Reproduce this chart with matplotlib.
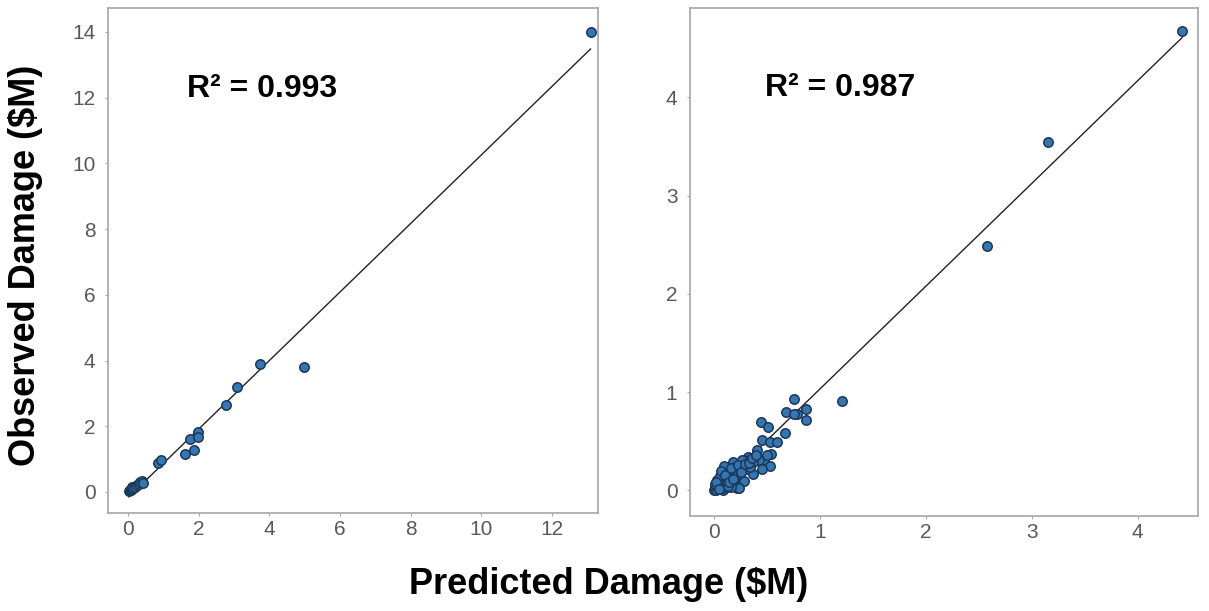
import numpy as np
import matplotlib
matplotlib.use('Agg')
import matplotlib.pyplot as plt

plt.rcParams['font.family'] = ['Liberation Sans', 'DejaVu Sans']

# left panel: observed vs predicted damage ($M)
pred_a = [0.02, 0.05, 0.08, 0.10, 0.12, 0.15, 0.20, 0.25, 0.30, 0.35, 0.39, 0.41,
          0.86, 0.93, 1.61, 1.74, 1.87, 1.99, 1.99, 2.78, 3.08, 3.74, 4.97, 13.09]
obs_a = [0.02, 0.06, 0.05, 0.10, 0.16, 0.12, 0.15, 0.22, 0.25, 0.30, 0.33, 0.26,
         0.89, 0.97, 1.16, 1.62, 1.28, 1.83, 1.68, 2.65, 3.19, 3.90, 3.81, 14.0]
fit_a = (1.043, -0.17)   # slope, intercept
r2_a = 'R² = 0.993'

# right panel
pred_b = [0.75, 0.68, 0.78, 0.87, 0.87, 0.44, 0.51, 0.67, 0.45, 0.53, 0.59, 0.40,
          0.54, 0.47, 0.53, 0.42, 0.32, 0.37, 0.28, 0.25, 0.18, 0.15, 0.31, 0.37,
          0.21, 0.10, 0.06, 0.03, 0.01, 0.12, 0.21, 0.18, 0.07, 0.28, 0.45, 0.75,
          1.21, 0.50, 0.23, 0.26, 0.34, 0.09,
          0.00, 0.01, 0.02, 0.02, 0.03, 0.04, 0.04, 0.05, 0.05, 0.06, 0.07, 0.08,
          0.08, 0.09, 0.10, 0.11, 0.12, 0.13, 0.14, 0.15, 0.16, 0.17, 0.19, 0.20,
          0.22, 0.24, 0.01, 0.03, 0.05, 0.07, 0.09, 0.11, 0.13, 0.02, 0.04, 0.06,
          0.10, 0.14, 0.16, 0.18, 0.22, 0.25, 0.29, 0.33, 0.36, 0.39,
          2.58, 3.15, 4.42]
obs_b = [0.93, 0.80, 0.78, 0.83, 0.72, 0.70, 0.65, 0.58, 0.51, 0.49, 0.49, 0.41,
         0.37, 0.31, 0.25, 0.31, 0.34, 0.29, 0.31, 0.25, 0.29, 0.22, 0.22, 0.17,
         0.14, 0.19, 0.14, 0.07, 0.02, 0.03, 0.02, 0.08, 0.08, 0.10, 0.22, 0.78,
         0.91, 0.36, 0.02, 0.31, 0.24, 0.25,
         0.00, 0.02, 0.05, 0.00, 0.03, 0.08, 0.01, 0.05, 0.12, 0.03, 0.10, 0.06,
         0.00, 0.13, 0.04, 0.09, 0.15, 0.07, 0.18, 0.11, 0.04, 0.20, 0.13, 0.24,
         0.17, 0.21, 0.07, 0.11, 0.15, 0.02, 0.18, 0.14, 0.05, 0.09, 0.01, 0.20,
         0.16, 0.09, 0.23, 0.12, 0.26, 0.19, 0.27, 0.28, 0.33, 0.36,
         2.49, 3.55, 4.68]
fit_b = (1.045, -0.01)
r2_b = 'R² = 0.987'

grey = '#a6a6a6'
tick_col = '#595959'
fill = '#3475b3'
edge = '#1b3856'

fig = plt.figure(figsize=(12.09, 6.11), dpi=100)
ax1 = fig.add_axes([0.0893, 0.1604, 0.4053, 0.8265])
ax2 = fig.add_axes([0.5707, 0.1555, 0.4202, 0.8314])

panels = [
    (ax1, pred_a, obs_a, fit_a, r2_a, (-0.57, 13.3), (-0.64, 14.73), [0, 2, 4, 6, 8, 10, 12], [0, 2, 4, 6, 8, 10, 12, 14], (0.161, 0.84)),
    (ax2, pred_b, obs_b, fit_b, r2_b, (-0.23, 4.57), (-0.26, 4.91), [0, 1, 2, 3, 4], [0, 1, 2, 3, 4], (0.148, 0.843)),
]

for ax, x, y, fit, r2, xl, yl, xt, yt, tpos in panels:
    x = np.array(x)
    xx = np.array([x.min(), x.max()])
    ax.plot(xx, fit[0] * xx + fit[1], color='#222222', lw=1.0, zorder=2)
    ax.scatter(x, y, s=46, c=fill, edgecolors=edge, linewidths=1.1, zorder=3)
    ax.set_xlim(*xl)
    ax.set_ylim(*yl)
    ax.set_xticks(xt)
    ax.set_yticks(yt)
    ax.tick_params(colors=grey, labelcolor=tick_col, labelsize=15, length=2, width=0.8)
    ax.tick_params(axis='x', pad=3)
    ax.tick_params(axis='y', pad=7)
    for sp in ax.spines.values():
        sp.set_color(grey)
        sp.set_linewidth(1.2)
    ax.text(tpos[0], tpos[1], r2, transform=ax.transAxes, fontsize=23,
            fontweight='bold', va='center', ha='left', color='black')

fig.text(0.021, 0.565, 'Observed Damage ($M)', rotation=90, fontsize=26,
         fontweight='bold', ha='center', va='center')
fig.text(0.503, 0.043, 'Predicted Damage ($M)', fontsize=26,
         fontweight='bold', ha='center', va='center')

fig.savefig('out.png', dpi=100, facecolor='w')
